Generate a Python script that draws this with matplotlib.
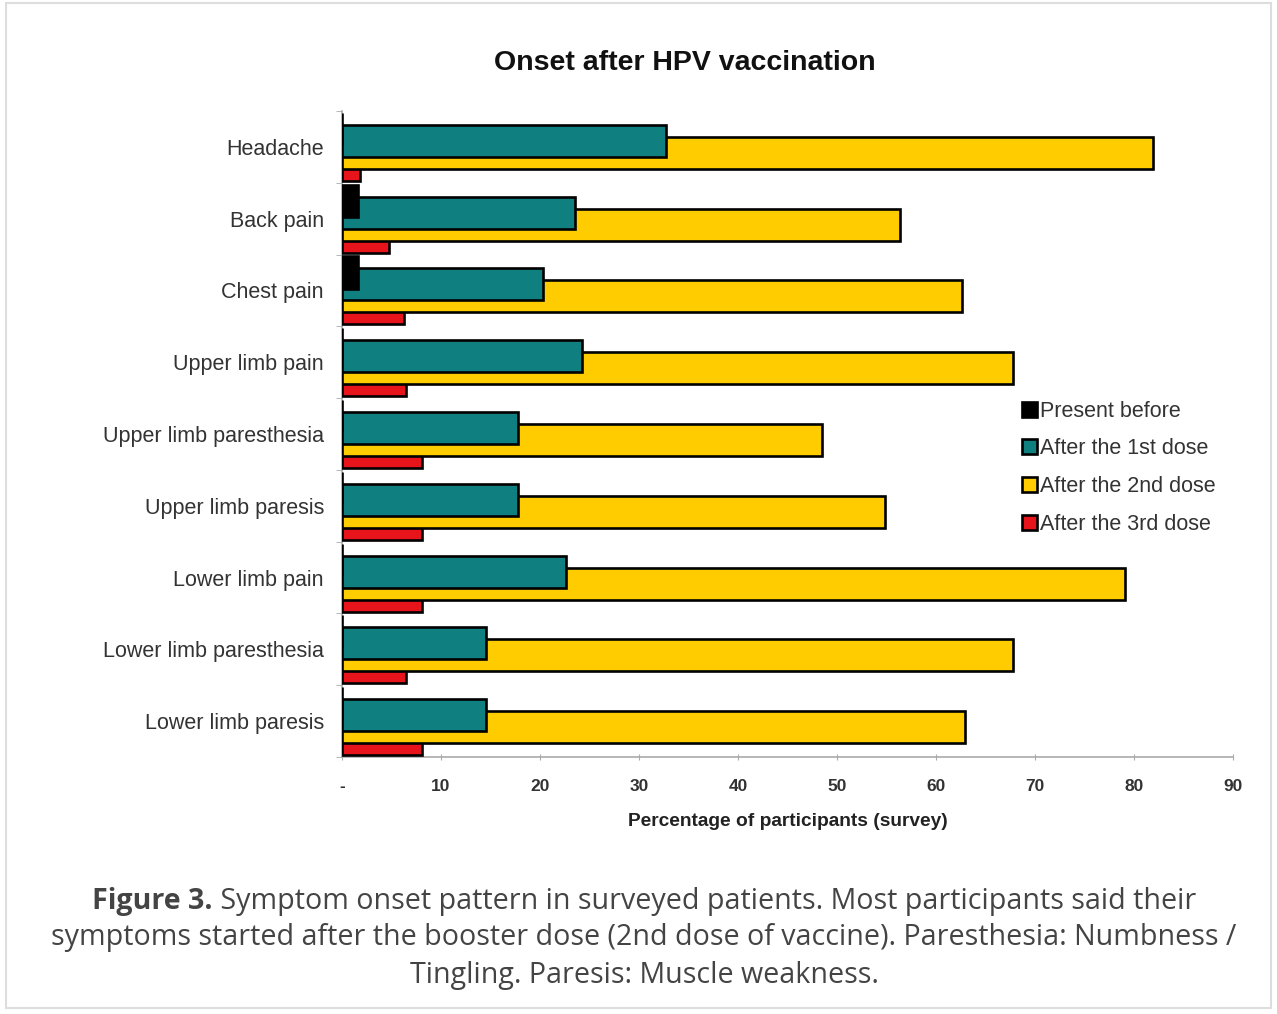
import matplotlib
matplotlib.use('Agg')
import matplotlib.pyplot as plt
import numpy as np
from matplotlib.patches import Rectangle

# Data (percentage of participants)
symptoms = ['Headache', 'Back pain', 'Chest pain', 'Upper limb pain',
            'Upper limb paresthesia', 'Upper limb paresis', 'Lower limb pain',
            'Lower limb paresthesia', 'Lower limb paresis']
present_before = [0, 1.6, 1.6, 0, 0, 0, 0, 0, 0]
after_1st = [32.7, 23.5, 20.3, 24.2, 17.8, 17.8, 22.6, 14.5, 14.5]
after_2nd = [81.9, 56.4, 62.6, 67.8, 48.5, 54.8, 79.1, 67.8, 62.9]
after_3rd = [1.8, 4.7, 6.3, 6.5, 8.1, 8.1, 8.1, 6.5, 8.1]
series_names = ['Present before', 'After the 1st dose', 'After the 2nd dose', 'After the 3rd dose']
x_ticks = [0, 10, 20, 30, 40, 50, 60, 70, 80, 90]
x_tick_labels = ['-', '10', '20', '30', '40', '50', '60', '70', '80', '90']

colors = ['#000000', '#0f7f80', '#ffcc00', '#e8141b']
series = [present_before, after_1st, after_2nd, after_3rd]

plt.rcParams['font.family'] = ['Liberation Sans', 'DejaVu Sans']

fig = plt.figure(figsize=(12.77, 10.14), dpi=100)
ax = fig.add_axes([342 / 1277, 1 - 757 / 1014, (1233 - 342) / 1277, (757 - 111) / 1014])

y = np.arange(len(symptoms))
bar_h = 0.446
offsets = [-0.25, -0.083, 0.083, 0.25]
# first series drawn on top (like the Excel overlap)
for k in range(4):
    ax.barh(y + offsets[k], series[k], height=bar_h, color=colors[k],
            edgecolor='black', linewidth=1.9, label=series_names[k], zorder=10 - k)

ax.set_ylim(len(symptoms) - 0.5, -0.5)
ax.set_xlim(0, 90)

ax.set_yticks(y)
ax.set_yticklabels(symptoms, fontsize=15.5, color='#333333')
ax.set_yticks(np.arange(len(symptoms) + 1) - 0.5, minor=True)
ax.tick_params(axis='y', which='major', length=0, pad=13)
ax.tick_params(axis='y', which='minor', length=4, color='#aaaaaa', direction='out')

ax.set_xticks(x_ticks)
ax.set_xticklabels(x_tick_labels, fontsize=12.5, fontweight='bold', color='#333333')
ax.tick_params(axis='x', length=5, color='#aaaaaa', direction='inout', pad=13)
ax.set_xlabel('Percentage of participants (survey)', fontsize=13.8,
              fontweight='bold', color='#222222', labelpad=14)

for s in ['top', 'right']:
    ax.spines[s].set_visible(False)
for s in ['left', 'bottom']:
    ax.spines[s].set_color('#aaaaaa')
    ax.spines[s].set_linewidth(1.2)

fig.text(685 / 1277, 1 - 63 / 1014, 'Onset after HPV vaccination', ha='center',
         va='center', fontsize=20.5, fontweight='bold', color='#111111')

leg = ax.legend(loc='upper left', bbox_to_anchor=(1013 / 1277, 1 - 392 / 1014),
                bbox_transform=fig.transFigure, frameon=False, fontsize=15.5,
                handlelength=0.7, handleheight=0.7, handletextpad=0.15,
                labelspacing=0.78, borderaxespad=0)
for t in leg.get_texts():
    t.set_color('#333333')

# caption below the chart
cap_font = ['Open Sans', 'DejaVu Sans']
cap_col = '#444444'
cap_size = 20.6
fig.canvas.draw()
r = fig.canvas.get_renderer()
t1 = fig.text(0, 1 - 901 / 1014, 'Figure 3.', fontsize=cap_size, fontweight='bold',
              family=cap_font, color=cap_col, va='center')
t2 = fig.text(0, 1 - 901 / 1014, ' Symptom onset pattern in surveyed patients. Most participants said their',
              fontsize=cap_size, family=cap_font, color=cap_col, va='center')
w1 = t1.get_window_extent(r).width / fig.bbox.width
w2 = t2.get_window_extent(r).width / fig.bbox.width
x0 = 644 / 1277 - (w1 + w2) / 2
t1.set_x(x0)
t2.set_x(x0 + w1)
fig.text(644 / 1277, 1 - 938 / 1014,
         'symptoms started after the booster dose (2nd dose of vaccine). Paresthesia: Numbness /',
         ha='center', va='center', fontsize=cap_size, family=cap_font, color=cap_col)
fig.text(644 / 1277, 1 - 975 / 1014, 'Tingling. Paresis: Muscle weakness.',
         ha='center', va='center', fontsize=cap_size, family=cap_font, color=cap_col)

# light frame around the figure
fig.patches.append(Rectangle((6 / 1277, 6 / 1014), 1 - 12 / 1277, 1 - 9 / 1014,
                             transform=fig.transFigure, fill=False,
                             edgecolor='#dddddd', linewidth=1.5))

fig.savefig('out.png', dpi=100)
